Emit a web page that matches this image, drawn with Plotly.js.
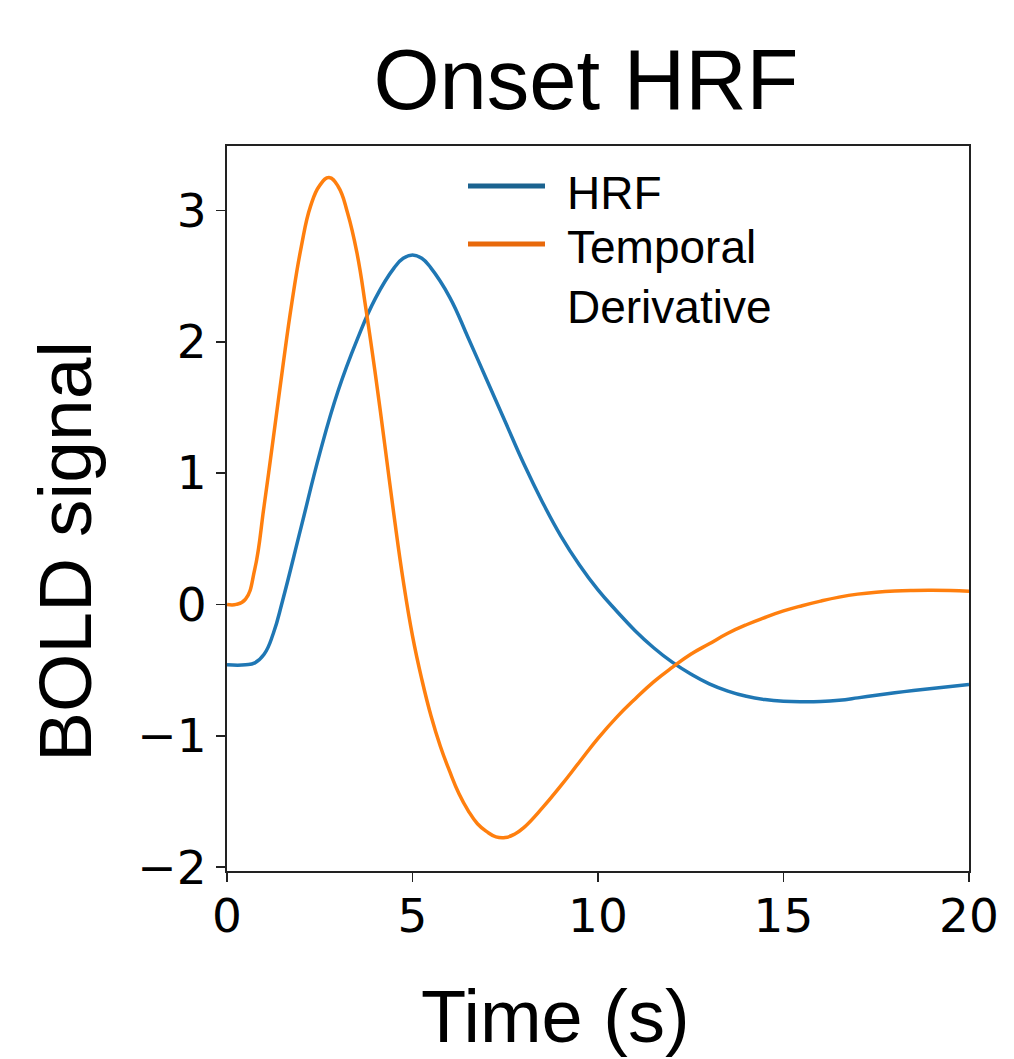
<!DOCTYPE html>
<html>
<head>
<meta charset="utf-8">
<script src="https://cdn.plot.ly/plotly-3.0.1.min.js"></script>
<style>
  html, body { margin: 0; padding: 0; background: #ffffff; }
  #chart { width: 1014px; height: 1059px; }
</style>
</head>
<body>
<div id="chart"></div>
<script>
// ---- data ----
const timeHrf = [0, 0.5, 0.75, 1.0, 1.25, 1.5, 2.0, 2.5, 3.0, 3.5, 4.0, 4.5, 4.75, 5.0, 5.25, 5.5, 6.0, 6.5, 7.0, 7.5, 8.0, 8.5, 9.0, 9.5, 10.0, 10.5, 11.0, 11.5, 12.0, 12.5, 13.0, 13.5, 14.0, 14.5, 15.0, 15.5, 16.0, 16.5, 17.0, 17.5, 18.0, 18.5, 19.0, 19.5, 20.0];
const hrfValues = [-0.46, -0.46, -0.445, -0.38, -0.22, 0.03, 0.59, 1.15, 1.63, 2.01, 2.33, 2.56, 2.635, 2.66, 2.635, 2.56, 2.34, 2.03, 1.71, 1.39, 1.07, 0.78, 0.52, 0.30, 0.11, -0.05, -0.20, -0.33, -0.44, -0.53, -0.605, -0.66, -0.70, -0.725, -0.738, -0.742, -0.74, -0.73, -0.712, -0.692, -0.673, -0.656, -0.64, -0.625, -0.61];

const timeDeriv = [0, 0.25, 0.5, 0.75, 1.0, 1.25, 1.5, 1.75, 2.0, 2.25, 2.5, 2.75, 3.0, 3.25, 3.5, 3.75, 4.0, 4.25, 4.5, 4.75, 5.0, 5.25, 5.5, 5.75, 6.0, 6.25, 6.5, 6.75, 7.0, 7.25, 7.5, 7.75, 8.0, 8.5, 9.0, 9.5, 10.0, 10.5, 11.0, 11.5, 12.0, 12.5, 13.0, 13.5, 14.0, 14.5, 15.0, 15.5, 16.0, 16.5, 17.0, 17.5, 18.0, 18.5, 19.0, 19.5, 20.0];
const derivValues = [0.0, 0.0, 0.04, 0.27, 0.75, 1.27, 1.80, 2.30, 2.72, 3.03, 3.19, 3.25, 3.18, 2.98, 2.68, 2.24, 1.75, 1.22, 0.68, 0.18, -0.24, -0.57, -0.85, -1.08, -1.27, -1.44, -1.57, -1.67, -1.73, -1.77, -1.775, -1.75, -1.70, -1.55, -1.38, -1.20, -1.02, -0.86, -0.72, -0.59, -0.48, -0.38, -0.30, -0.22, -0.155, -0.10, -0.05, -0.01, 0.025, 0.055, 0.078, 0.093, 0.102, 0.106, 0.107, 0.105, 0.10];

const seriesNames = ['HRF', 'Temporal<br>Derivative'];
const chartTitle = 'Onset HRF';
const xTitle = 'Time (s)';
const yTitle = 'BOLD signal';
const xTicks = [0, 5, 10, 15, 20];
const yTicks = [-2, -1, 0, 1, 2, 3];

// ---- drawing ----
const W = 1014, H = 1059;
const M = { l: 227, r: 45, t: 146, b: 188 };
const plotW = W - M.l - M.r, plotH = H - M.t - M.b;
const textFont = 'Liberation Sans, Arial, Helvetica, sans-serif';
const tickFont = 'DejaVu Sans, Verdana, sans-serif';
const lineColors = ['#1f77b4', '#ff7f0e'];
const legendColors = ['#1b6390', '#e8690b'];

// pixel -> paper helpers (layout positions only)
const px = x => (x - M.l) / plotW;
const py = y => ((H - M.b) - y) / plotH;

const traces = seriesNames.map((name, i) => ({
  x: i === 0 ? timeHrf : timeDeriv,
  y: i === 0 ? hrfValues : derivValues,
  name: name, type: 'scatter', mode: 'lines', showlegend: false,
  line: { color: lineColors[i], width: 3.5, shape: 'spline', smoothing: 1.3 }
}));

const axisCommon = {
  showgrid: false, zeroline: false,
  showline: true, mirror: true, linecolor: '#222222', linewidth: 2,
  ticks: 'outside', ticklen: 9, tickwidth: 1.6, tickcolor: '#222222',
  tickfont: { family: tickFont, size: 47, color: '#000000' }
};

// custom legend (long sample lines like the reference)
const legendY = [186, 244];
const legendTextY = [193, 277];
const legendShapes = seriesNames.map((n, i) => ({
  type: 'line', xref: 'paper', yref: 'paper', layer: 'above',
  x0: px(468), x1: px(545), y0: py(legendY[i]), y1: py(legendY[i]),
  line: { color: legendColors[i], width: 5 }
}));
const legendLabels = seriesNames.map((n, i) => ({
  text: n, xref: 'paper', yref: 'paper', showarrow: false,
  x: px(565), y: py(legendTextY[i]), xanchor: 'left', yanchor: 'middle', align: 'left',
  font: { family: textFont, size: 46, color: '#000000' }
}));

const layout = {
  width: W, height: H,
  margin: M,
  paper_bgcolor: '#ffffff', plot_bgcolor: '#ffffff',
  showlegend: false,
  title: {
    text: chartTitle,
    font: { family: textFont, size: 85, color: '#000000' },
    x: 586 / W, xref: 'container', xanchor: 'center',
    y: 1 - 79 / H, yref: 'container', yanchor: 'middle'
  },
  xaxis: Object.assign({}, axisCommon, {
    range: [0, 20], tickmode: 'array', tickvals: xTicks, ticktext: xTicks.map(String),
    ticklabelstandoff: -6
  }),
  yaxis: Object.assign({}, axisCommon, {
    range: [-2.03, 3.49], tickmode: 'array', tickvals: yTicks,
    ticktext: yTicks.map(v => (v < 0 ? '\u2212' + Math.abs(v) : String(v)))
  }),
  shapes: legendShapes,
  annotations: legendLabels.concat([
    {
      text: xTitle, xref: 'paper', yref: 'paper',
      x: px(555), y: py(1016),
      xanchor: 'center', yanchor: 'middle', showarrow: false,
      font: { family: textFont, size: 74, color: '#000000' }
    },
    {
      text: yTitle, xref: 'paper', yref: 'paper',
      x: px(65), y: py(552),
      xanchor: 'center', yanchor: 'middle', showarrow: false, textangle: -90,
      font: { family: textFont, size: 75, color: '#000000' }
    }
  ])
};

Plotly.newPlot('chart', traces, layout, { displayModeBar: false, staticPlot: true });
</script>
</body>
</html>
